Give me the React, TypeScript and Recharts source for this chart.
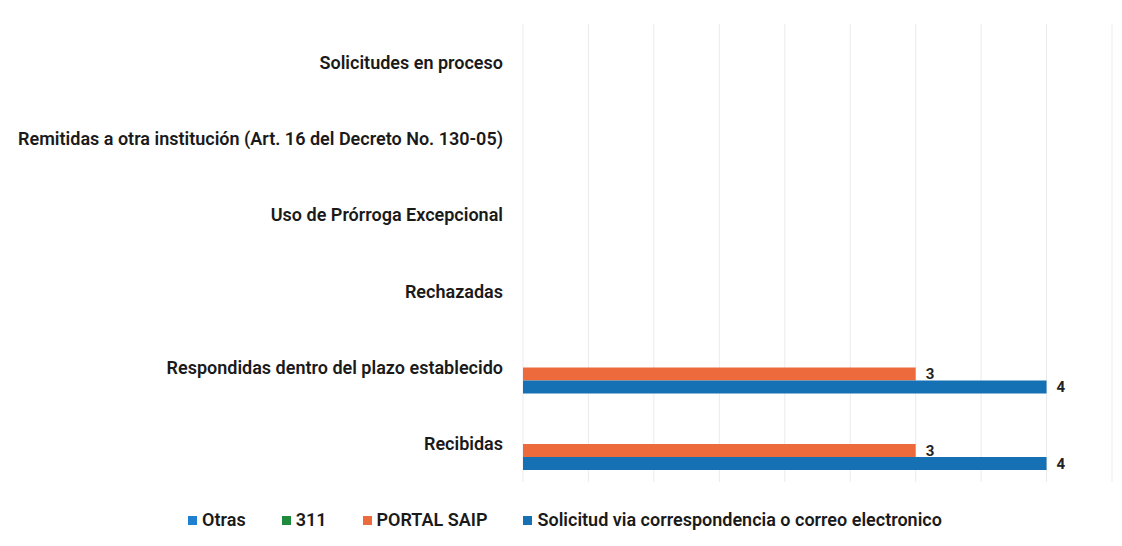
import React from "react";
import { BarChart, Bar, XAxis, YAxis, CartesianGrid, Legend, LabelList } from "recharts";

// categories top to bottom, as they read in the picture
const categories = [
  "Solicitudes en proceso",
  "Remitidas a otra institución (Art. 16 del Decreto No. 130-05)",
  "Uso de Prórroga Excepcional",
  "Rechazadas",
  "Respondidas dentro del plazo establecido",
  "Recibidas",
];

const otras = [0, 0, 0, 0, 0, 0];
const linea311 = [0, 0, 0, 0, 0, 0];
const portalSaip = [0, 0, 0, 0, 3, 3];
const correspondencia = [0, 0, 0, 0, 4, 4];

const xTicks = [0, 0.5, 1, 1.5, 2, 2.5, 3, 3.5, 4, 4.5];

const series = [
  { key: "otras", name: "Otras", color: "#1f7fd0", values: otras, labels: false },
  { key: "s311", name: "311", color: "#1e8a3c", values: linea311, labels: false },
  { key: "portal", name: "PORTAL SAIP", color: "#ec6a3c", values: portalSaip, labels: true },
  { key: "corr", name: "Solicitud via correspondencia o correo electronico", color: "#1670b4", values: correspondencia, labels: true },
];

const data = categories.map((name, i) => {
  const row: Record<string, any> = { name };
  series.forEach((s) => (row[s.key] = s.values[i]));
  return row;
});

const FONT = "Roboto, 'DejaVu Sans', sans-serif";

function LegendBox() {
  return (
    <div
      style={{
        display: "flex",
        justifyContent: "center",
        gap: 36,
        paddingTop: 28,
        height: 20,
        lineHeight: "20px",
        fontFamily: FONT,
        fontWeight: 600,
        fontSize: 18,
        color: "#1a1a1a",
        paddingLeft: 10,
      }}
    >
      {series.map((s) => (
        <div key={s.key} style={{ display: "flex", alignItems: "center" }}>
          <span style={{ display: "inline-block", width: 9, height: 9, background: s.color, marginRight: 5 }} />
          {s.name}
        </div>
      ))}
    </div>
  );
}

export default function App() {
  return (
    <div style={{ background: "#fff" }}>
      <BarChart
        width={1106}
        height={530}
        data={data}
        layout="vertical"
        margin={{ top: 16, right: 2, bottom: 8, left: 0 }}
        barCategoryGap="16%"
        barGap={0}
      >
        <CartesianGrid horizontal={false} stroke="#ebebeb" />
        <XAxis type="number" domain={[0, 4.5]} ticks={xTicks} hide />
        <YAxis
          type="category"
          dataKey="name"
          width={515}
          axisLine={false}
          tickLine={false}
          tickMargin={14}
          interval={0}
          tick={{ fontFamily: FONT, fontWeight: 600, fontSize: 18, fill: "#1a1a1a" }}
        />
        <Legend verticalAlign="bottom" content={() => <LegendBox />} />
        {series.map((s) => (
          <Bar key={s.key} dataKey={s.key} name={s.name} fill={s.color} isAnimationActive={false}>
            {s.labels && (
              <LabelList
                dataKey={s.key}
                position="right"
                offset={10}
                formatter={(v: any) => (v ? v : "")}
                style={{ fontFamily: FONT, fontWeight: 700, fontSize: 15, fill: "#222" }}
              />
            )}
          </Bar>
        ))}
      </BarChart>
    </div>
  );
}
